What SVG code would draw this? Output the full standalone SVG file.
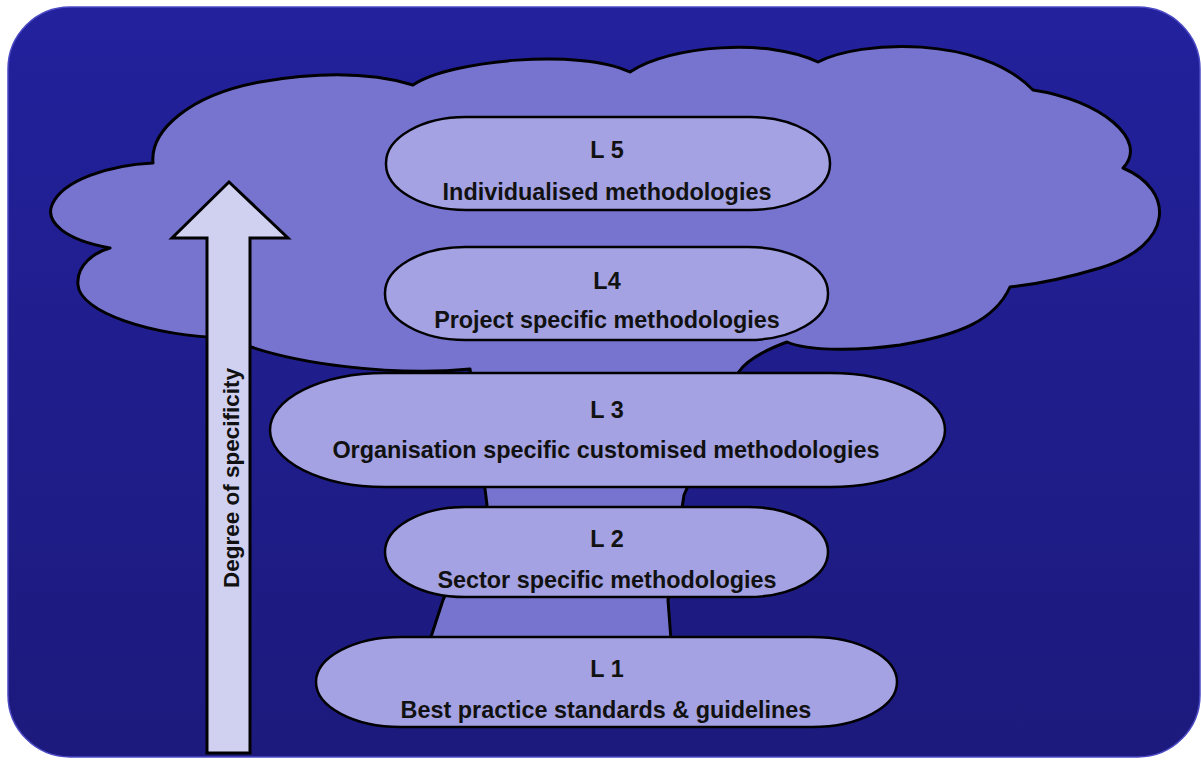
<svg xmlns="http://www.w3.org/2000/svg" width="1201" height="760" viewBox="0 0 1201 760">
<defs>
<linearGradient id="bg" x1="0" y1="0" x2="0" y2="1">
<stop offset="0" stop-color="#23219c"/>
<stop offset="1" stop-color="#1c1a7c"/>
</linearGradient>
<style>
.lvl{fill:#a4a2e2;stroke:#000;stroke-width:2.5}
.t{font-family:"Liberation Sans",Arial,sans-serif;font-weight:bold;font-size:23.4px;fill:#111;text-anchor:middle}
.v{font-size:22.5px}
</style>
</defs>
<rect x="0" y="0" width="1201" height="760" fill="#fff"/>
<rect x="8" y="7" width="1192" height="750" rx="62" ry="62" fill="url(#bg)" stroke="#4b49c4" stroke-width="1.5"/>
<g id="tree">
<path d="M110,248 C65,240 45,222 52,205 C62,180 110,165 153,163 C150,130 190,95 260,82 C330,70 380,75 413,85 C450,60 580,48 630,72 C670,45 770,38 818,62 C860,40 980,35 1033,90 C1100,100 1150,140 1123,168 C1175,190 1175,245 1100,268 C1060,280 1030,285 1010,287 C995,320 960,335 900,345 C850,352 805,350 787,342 C760,352 745,362 738,373 L684,495 L668,600 L671,640 L430,640 L443,600 L487,505 L470,369 C400,376 290,366 228,338 C150,336 80,312 78,285 C76,265 95,252 110,248 Z" fill="#7674cf" stroke="#000" stroke-width="3" stroke-linejoin="round"/>
</g>
<g id="arrow">
<path d="M207,753 L207,238 L172,238 L229,182 L288,238 L250,238 L250,753 Z" fill="#d0d0f0" stroke="#000" stroke-width="3" stroke-linejoin="miter"/>
<text class="t v" transform="translate(239,478) rotate(-90)" x="0" y="0">Degree of specificity</text>
</g>
<g id="L5">
<rect class="lvl" x="386" y="117" width="444" height="93" rx="80" ry="46"/>
<text class="t" x="607" y="158">L 5</text>
<text class="t" x="607" y="200">Individualised methodologies</text>
</g>
<g id="L4">
<rect class="lvl" x="385" y="247" width="443" height="93" rx="80" ry="46"/>
<text class="t" x="607" y="289">L4</text>
<text class="t" x="607" y="328">Project specific methodologies</text>
</g>
<g id="L3">
<rect class="lvl" x="270" y="373" width="675" height="114" rx="115" ry="57"/>
<text class="t" x="607" y="418">L 3</text>
<text class="t" x="606" y="458">Organisation specific customised methodologies</text>
</g>
<g id="L2">
<rect class="lvl" x="385" y="507" width="443" height="90" rx="80" ry="45"/>
<text class="t" x="607" y="547">L 2</text>
<text class="t" x="607" y="588">Sector specific methodologies</text>
</g>
<g id="L1">
<rect class="lvl" x="316" y="637" width="581" height="90" rx="85" ry="45"/>
<text class="t" x="607" y="677">L 1</text>
<text class="t" x="606" y="718">Best practice standards &amp; guidelines</text>
</g>
</svg>
